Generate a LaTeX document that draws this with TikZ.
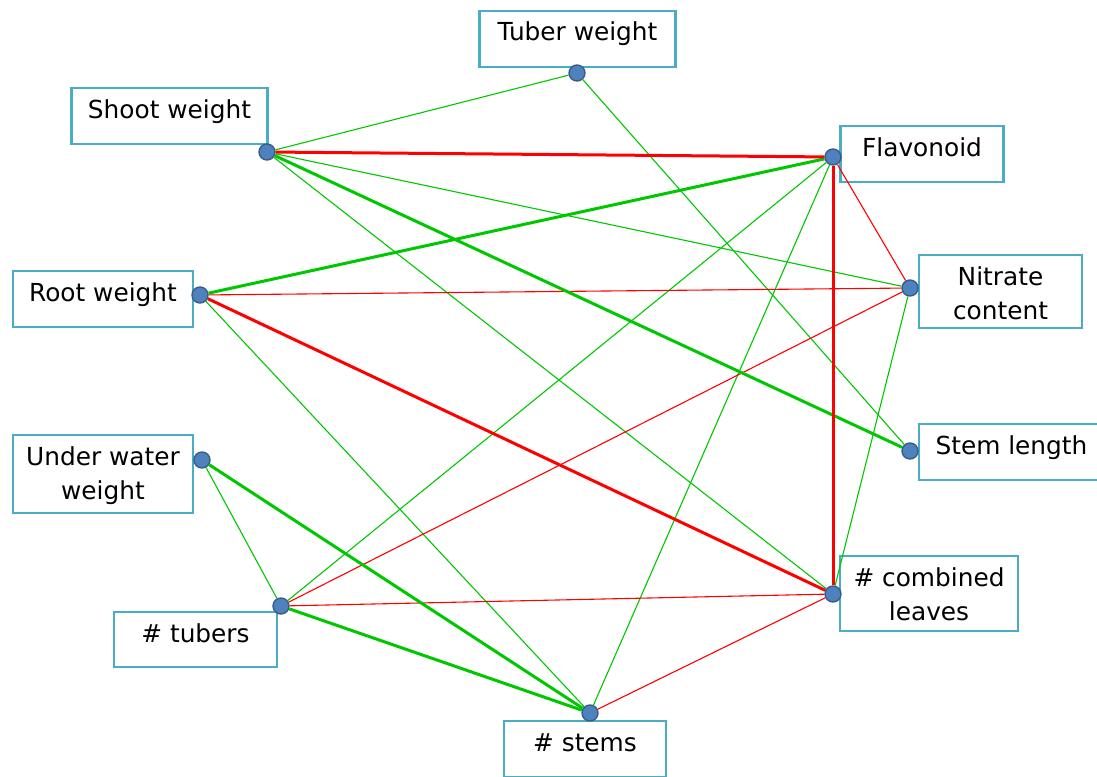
\documentclass[tikz,border=0pt]{standalone}
\usepackage{fontspec}
\setmainfont{DejaVu Sans}
\definecolor{boxline}{HTML}{4BACC6}
\definecolor{dotfill}{HTML}{4F81BD}
\definecolor{dotline}{HTML}{385D8A}
\definecolor{gcol}{HTML}{00C800}
\definecolor{rcol}{HTML}{FF0000}
\begin{document}
\begin{tikzpicture}[
        x=1pt, y=-1pt,
        box/.style={draw=boxline, line width=2.7pt, fill=white, inner xsep=0pt, inner ysep=0pt,
            anchor=base, align=center, text height=30pt,
            font=\fontsize{24.8}{34}\selectfont},
        twolines/.style={text height=64pt},
        dot/.style={circle, draw=dotline, fill=dotfill, line width=1.4pt, minimum size=16pt, inner sep=0pt},
        gweak/.style={gcol, line width=1.1pt},
        gstrong/.style={gcol, line width=3pt},
        rweak/.style={rcol, line width=1.1pt},
        rstrong/.style={rcol, line width=3pt}
    ]
    \useasboundingbox (0,0) rectangle (1097,776);
    % labels
    \node[box, minimum width=196, text depth=26pt] (tw) at (577.5,41) {Tuber weight};
    \node[box, minimum width=196, text depth=26pt] (sw) at (169.5,118) {Shoot weight};
    \node[box, minimum width=163, text depth=26pt] (fl) at (922,156) {Flavonoid};
    \node[box, minimum width=180, text depth=26pt] (rw) at (103,301) {Root weight};
    \node[box, twolines, minimum width=163, text depth=9pt] (nc) at (1000.5,319) {Nitrate\\content};
    \node[box, minimum width=185, text depth=26pt] (sl) at (1011.5,454) {Stem length};
    \node[box, twolines, minimum width=180, text depth=14pt] (uw) at (103,499) {Under water\\weight};
    \node[box, twolines, minimum width=178, text depth=11pt] (cl) at (929,620) {\# combined\\leaves};
    \node[box, minimum width=163, text depth=25pt] (tb) at (195.5,642) {\# tubers};
    \node[box, minimum width=162, text depth=26pt] (st) at (585,751) {\# stems};
    % points
    \node[dot] (twd) at (577,73) {};
    \node[dot] (swd) at (267,152) {};
    \node[dot] (fld) at (833,157) {};
    \node[dot] (rwd) at (200,295) {};
    \node[dot] (ncd) at (910,288) {};
    \node[dot] (sld) at (910,451) {};
    \node[dot] (uwd) at (202,460) {};
    \node[dot] (cld) at (833,594) {};
    \node[dot] (tbd) at (281,606) {};
    \node[dot] (std) at (590,713) {};
    % correlations
    \draw[gweak] (twd) -- (swd);
    \draw[gweak] (twd) -- (sld);
    \draw[gweak] (swd) -- (ncd);
    \draw[gweak] (swd) -- (cld);
    \draw[gweak] (fld) -- (tbd);
    \draw[gweak] (fld) -- (std);
    \draw[gweak] (rwd) -- (std);
    \draw[gweak] (ncd) -- (cld);
    \draw[gweak] (uwd) -- (tbd);
    \draw[rweak] (fld) -- (ncd);
    \draw[rweak] (rwd) -- (ncd);
    \draw[rweak] (ncd) -- (tbd);
    \draw[rweak] (tbd) -- (cld);
    \draw[rweak] (std) -- (cld);
    \draw[gstrong] (swd) -- (sld);
    \draw[gstrong] (fld) -- (rwd);
    \draw[gstrong] (uwd) -- (std);
    \draw[gstrong] (tbd) -- (std);
    \draw[rstrong] (swd) -- (fld);
    \draw[rstrong] (fld) -- (cld);
    \draw[rstrong] (rwd) -- (cld);
\end{tikzpicture}
\end{document}
